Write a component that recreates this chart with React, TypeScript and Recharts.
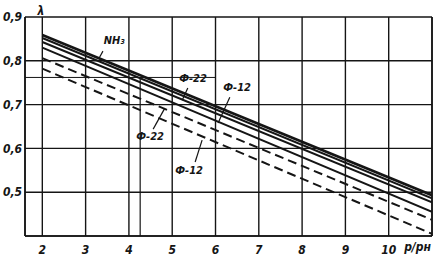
import React from 'react';
import {
  LineChart,
  Line,
  XAxis,
  YAxis,
  CartesianGrid,
  ReferenceLine,
  ReferenceDot,
} from 'recharts';

const pressureRatio = [2, 11];

// lambda values at start and end of each line
const nh3A = [0.859, 0.493];
const nh3B = [0.852, 0.486];
const r22Solid = [0.843, 0.477];
const r12Solid = [0.83, 0.455];
const r22Dashed = [0.806, 0.437];
const r12Dashed = [0.782, 0.405];

const xTicks = [2, 3, 4, 5, 6, 7, 8, 9, 10];
const yTicks = [0.5, 0.6, 0.7, 0.8, 0.9];

// curve labels: [text, x, y]
const curveLabels: [string, number, number][] = [
  ['NH₃', 3.66, 0.848],
  ['Ф-22', 5.48, 0.761],
  ['Ф-12', 6.5, 0.74],
  ['Ф-22', 4.49, 0.628],
  ['Ф-12', 5.39, 0.551],
];

// leader lines: [x1, y1, x2, y2]
const leaders: [number, number, number, number][] = [
  [3.4, 0.822, 3.31, 0.806],
  [5.36, 0.738, 5.23, 0.71],
  [6.33, 0.717, 6.06, 0.658],
  [4.56, 0.644, 4.83, 0.692],
  [5.53, 0.569, 5.69, 0.619],
];

const data = pressureRatio.map((x, i) => ({
  x,
  nh3A: nh3A[i],
  nh3B: nh3B[i],
  r22Solid: r22Solid[i],
  r12Solid: r12Solid[i],
  r22Dashed: r22Dashed[i],
  r12Dashed: r12Dashed[i],
}));

const font = {
  fontFamily: '"DejaVu Sans Condensed", "DejaVu Sans", sans-serif',
  fontStyle: 'italic',
  fontWeight: 700,
  fontSize: 11,
  fill: '#151515',
};

const tickFont = { ...font, fontSize: 12 };

const ink = '#151515';

export default function App() {
  return (
    <div style={{ position: 'fixed', left: 0, top: 0, background: '#fff' }}>
      <LineChart
        width={439}
        height={263}
        data={data}
        margin={{ top: 17, right: 7, bottom: 0, left: 0 }}
      >
        <CartesianGrid stroke={ink} strokeWidth={1.4} strokeDasharray="" />
        <XAxis
          dataKey="x"
          type="number"
          domain={[1.6, 11]}
          ticks={xTicks}
          height={27}
          allowDataOverflow
          tickLine={false}
          tickMargin={3}
          axisLine={{ stroke: ink, strokeWidth: 1.6 }}
          tick={tickFont}
          label={{ value: 'p/pн', position: 'insideRight', offset: 1, dy: -3, ...tickFont }}
        />
        <YAxis
          type="number"
          domain={[0.4, 0.9]}
          ticks={yTicks}
          width={25}
          tickLine={false}
          tickSize={0}
          tickMargin={3}
          allowDataOverflow
          axisLine={{ stroke: ink, strokeWidth: 1.6 }}
          tick={tickFont}
          tickFormatter={(v: number) => v.toFixed(1).replace('.', ',')}
        />
        <ReferenceLine x={11} stroke={ink} strokeWidth={1.6} />
        <ReferenceLine
          segment={[{ x: 1.6, y: 0.762 }, { x: 6, y: 0.762 }]}
          stroke={ink}
          strokeWidth={1}
        />
        <ReferenceLine
          segment={[{ x: 4.26, y: 0.4 }, { x: 4.26, y: 0.762 }]}
          stroke={ink}
          strokeWidth={1.2}
        />
        {leaders.map(([x1, y1, x2, y2], i) => (
          <ReferenceLine
            key={'l' + i}
            segment={[{ x: x1, y: y1 }, { x: x2, y: y2 }]}
            stroke={ink}
            strokeWidth={1.2}
          />
        ))}
        <Line dataKey="nh3A" stroke={ink} strokeWidth={2.6} dot={false} isAnimationActive={false} />
        <Line dataKey="nh3B" stroke={ink} strokeWidth={2} dot={false} isAnimationActive={false} />
        <Line dataKey="r22Solid" stroke={ink} strokeWidth={2} dot={false} isAnimationActive={false} />
        <Line dataKey="r12Solid" stroke={ink} strokeWidth={2} dot={false} isAnimationActive={false} />
        <Line
          dataKey="r22Dashed"
          stroke={ink}
          strokeWidth={2}
          strokeDasharray="9 5"
          dot={false}
          isAnimationActive={false}
        />
        <Line
          dataKey="r12Dashed"
          stroke={ink}
          strokeWidth={2}
          strokeDasharray="9 5"
          dot={false}
          isAnimationActive={false}
        />
        {curveLabels.map(([text, x, y], i) => (
          <ReferenceDot
            key={'t' + i}
            x={x}
            y={y}
            r={0}
            fill="none"
            stroke="none"
            label={{ value: text, position: 'center', ...font }}
          />
        ))}
        <ReferenceDot
          x={1.97}
          y={0.9}
          r={0}
          fill="none"
          stroke="none"
          ifOverflow="visible"
          label={{ value: 'λ', position: 'top', offset: 2, ...font, fontSize: 12 }}
        />
      </LineChart>
    </div>
  );
}
